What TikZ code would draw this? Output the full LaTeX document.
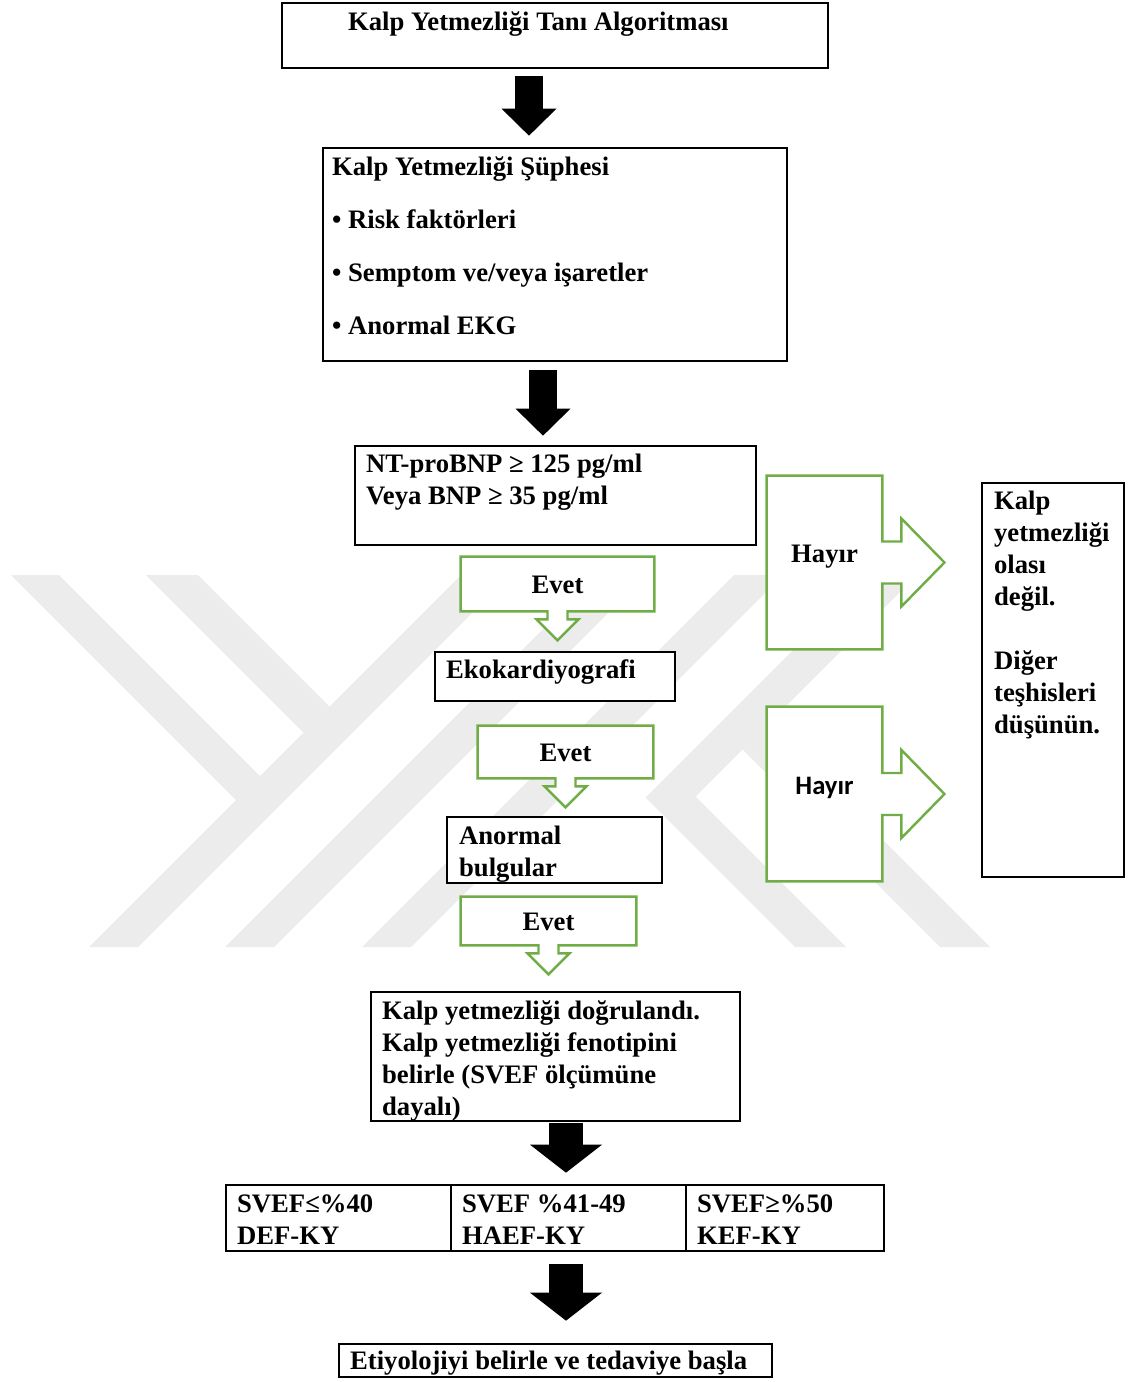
\documentclass[tikz,border=0pt]{standalone}
\usepackage{fontspec}
\setmainfont{Liberation Serif}
\newfontfamily\hayirfont{Carlito}
\usetikzlibrary{arrows.meta,fit,calc,backgrounds}
\definecolor{evetgreen}{RGB}{112,173,71}
\definecolor{wmgray}{RGB}{236,236,236}

\begin{document}
\begin{tikzpicture}[x=0.45pt,y=-0.45pt,
 box/.style={draw,line width=1.2pt,fill=white,inner sep=0pt},
 txt/.style={font=\bfseries\fontsize{12}{14.4}\selectfont,inner sep=0pt,align=left,anchor=base west},
 callout/.style={inner sep=0pt,font=\bfseries\fontsize{12}{14.4}\selectfont},
 grnshape/.style={draw=evetgreen,line width=1.1pt,fill=white,line join=miter},
 blkarrow/.style={line width=12.6pt,-{Triangle[width=24.75pt,length=12.15pt,line width=0pt]}},
 blkarrowbig/.style={line width=15.3pt,-{Triangle[width=32.4pt,length=12.6pt,line width=0pt]}}]
\useasboundingbox (0,0) rectangle (1129,1382);

% boxes
\node[box,fit={(282,3) (828,68)}] (title) {};
\node[box,fit={(323,148) (787,361)}] (sus) {};
\node[box,fit={(355,446) (756,545)}] (bnp) {};
\node[box,fit={(435,652) (675,701)}] (eko) {};
\node[box,fit={(447,817) (662,883)}] (anor) {};
\node[box,fit={(371,992) (740,1121)}] (dogr) {};
\node[box,fit={(226,1185) (451,1251)}] (sv1) {};
\node[box,fit={(451,1185) (686,1251)}] (sv2) {};
\node[box,fit={(686,1185) (884,1251)}] (sv3) {};
\node[box,fit={(339,1344) (772,1377)}] (etio) {};
\node[box,fit={(982,483) (1124,877)}] (diger) {};

% texts (multi-line nodes sit on their last baseline)
\node[txt] (titletxt) at ([shift={(67,29)}]title.north west) {Kalp Yetmezliği Tanı Algoritması};
\node[txt,font=\bfseries\fontsize{12}{23.85}\selectfont] (sustxt) at ([shift={(10,188)}]sus.north west)
 {Kalp Yetmezliği Şüphesi\\• Risk faktörleri\\• Semptom ve/veya işaretler\\• Anormal EKG};
\node[txt] (bnptxt) at ([shift={(12,60)}]bnp.north west) {NT-proBNP ≥ 125 pg/ml\\Veya BNP ≥ 35 pg/ml};
\node[txt] (ekotxt) at ([shift={(12,28)}]eko.north west) {Ekokardiyografi};
\node[txt] (anortxt) at ([shift={(13,61)}]anor.north west) {Anormal\\bulgular};
\node[txt] (dogrtxt) at ([shift={(12,125)}]dogr.north west)
 {Kalp yetmezliği doğrulandı.\\Kalp yetmezliği fenotipini\\belirle (SVEF ölçümüne\\dayalı)};
\node[txt] (sv1txt) at ([shift={(12,61)}]sv1.north west) {SVEF≤\%40\\DEF-KY};
\node[txt] (sv2txt) at ([shift={(12,61)}]sv2.north west) {SVEF \%41-49\\HAEF-KY};
\node[txt] (sv3txt) at ([shift={(12,61)}]sv3.north west) {SVEF≥\%50\\KEF-KY};
\node[txt] (etiotxt) at ([shift={(12,27)}]etio.north west) {Etiyolojiyi belirle ve tedaviye başla};
\node[txt] (digertxt) at ([shift={(13,252)}]diger.north west)
 {Kalp\\yetmezliği\\olası\\değil.\\[14.4pt]Diğer\\teşhisleri\\düşünün.};

% callouts
\node[inner sep=0pt,fit={(461,557) (654,611)}] (ev1) {};
\node[inner sep=0pt,fit={(478,726) (653,778)}] (ev2) {};
\node[inner sep=0pt,fit={(461,897) (636,945)}] (ev3) {};
\node[inner sep=0pt,fit={(767,476) (882,649)}] (hay1) {};
\node[inner sep=0pt,fit={(767,707) (882,881)}] (hay2) {};
\foreach \n in {ev1,ev2,ev3}
 \node[callout,anchor=base] (\n txt) at ([shift={(0,9)}]\n.center) {Evet};
\node[callout,anchor=base] (hay1txt) at (hay1.center) {Hayır};
\node[callout,font=\hayirfont\bfseries\fontsize{12}{14.4}\selectfont,anchor=base] (hay2txt) at (hay2.center) {Hayır};

% block arrows
\coordinate (c1) at (529,0);
\coordinate (c2) at (543,0);
\coordinate (c3) at (566,0);
\draw[blkarrow,shorten <=3.15pt,shorten >=4.95pt] (title.south -| c1) -- (sus.north -| c1);
\draw[blkarrow,shorten <=3.6pt,shorten >=4.05pt] (sus.south -| c2) -- (bnp.north -| c2);
\draw[blkarrowbig,shorten <=0.45pt,shorten >=4.95pt] (dogr.south -| c3) -- (sv2.north -| c3);
\draw[blkarrowbig,shorten <=5.4pt,shorten >=9.9pt] (sv2.south -| c3) -- (etio.north -| c3);

\begin{scope}[on background layer]
 % watermark
 \foreach \a in {461,597,734}
  \fill[wmgray] (\a,575) -- ++(49,0) -- ++(-372,372) -- ++(-49,0) -- cycle;
 \fill[wmgray] (11,575) -- (59,575) -- (272,788) -- (248,812) -- cycle;
 \fill[wmgray] (146,575) -- (198,575) -- (341.5,718.5) -- (315.5,744.5) -- cycle;
 \fill[wmgray] (868,575) -- (917,575) -- (695.5,796.5) -- (846,947) -- (795,947) -- (645.5,797.5) -- cycle;
 \fill[wmgray] (755,712) -- (990,947) -- (940,947) -- (730,737) -- cycle;
 % green outlines
 \foreach \n in {ev1,ev2,ev3}
  \path[grnshape] (\n.north west) -- (\n.north east) -- (\n.south east) -- ($(\n.south)+(10,0)$)
   -- ++(0,8) -- ++(11,0) -- ++(-21,21) -- ++(-21,-21) -- ++(11,0) -- ++(0,-8) -- (\n.south west) -- cycle;
 \foreach \n in {hay1,hay2}
  \path[grnshape] (\n.north west) -- (\n.north east) -- ($(\n.east)+(0,-21)$) -- ++(19,0) -- ++(0,-23)
   -- ++(43,44) -- ++(-43,44) -- ++(0,-23) -- ++(-19,0) -- (\n.south east) -- (\n.south west) -- cycle;
\end{scope}
\end{tikzpicture}
\end{document}
